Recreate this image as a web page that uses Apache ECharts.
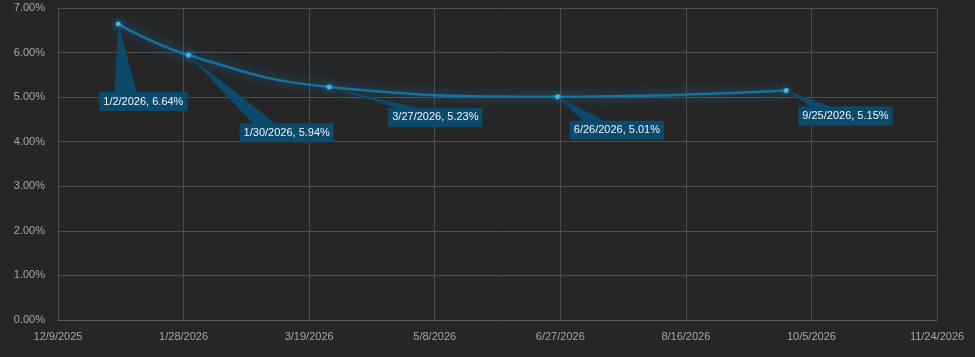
<!DOCTYPE html>
<html>
<head>
<meta charset="utf-8">
<script src="https://cdn.jsdelivr.net/npm/echarts@6/dist/echarts.min.js"></script>
<style>
html,body{margin:0;padding:0;background:#262626;}
#chart{width:975px;height:357px;}
</style>
</head>
<body>
<div id="chart"></div>
<script>
// Data
var dates = ["1/2/2026", "1/30/2026", "3/27/2026", "6/26/2026", "9/25/2026"];
var values = [6.64, 5.94, 5.23, 5.01, 5.15];
var xTickMin = "12/9/2025", xTickMax = "11/24/2026", xTickStepDays = 50;
var yTicks = [0, 1, 2, 3, 4, 5, 6, 7];
// Label box offsets (px) from each point: [left, top]
var labelOffsets = [[-19, 68], [51, 68], [59, 21], [12, 24], [12, 16]];

var EPOCH = Date.UTC(1899, 11, 30);
function toSerial(s) {
  var p = s.split('/');
  return Math.round((Date.UTC(+p[2], +p[0] - 1, +p[1]) - EPOCH) / 86400000);
}
function fromSerial(n) {
  var d = new Date(EPOCH + n * 86400000);
  return (d.getUTCMonth() + 1) + '/' + d.getUTCDate() + '/' + d.getUTCFullYear();
}
var pts = dates.map(function (d, i) { return [toSerial(d), values[i]]; });

var chart = echarts.init(document.getElementById('chart'));
var FONT = '"Liberation Sans", Arial, sans-serif';
var gridColor = '#4d4d4d';
var boxColor = '#0c4a6b';

chart.setOption({
  backgroundColor: '#262626',
  animation: false,
  grid: { left: 58, right: 38, top: 8, bottom: 37 },
  xAxis: {
    type: 'value',
    min: toSerial(xTickMin),
    max: toSerial(xTickMax),
    interval: xTickStepDays,
    axisLine: { show: true, lineStyle: { color: '#595959', width: 1 } },
    axisTick: { show: false },
    splitLine: { show: true, lineStyle: { color: gridColor, width: 1 } },
    axisLabel: {
      color: '#a6a6a6', fontSize: 11, fontFamily: FONT, margin: 11,
      formatter: function (v) { return fromSerial(v); }
    }
  },
  yAxis: {
    type: 'value',
    min: yTicks[0],
    max: yTicks[yTicks.length - 1],
    interval: 1,
    axisLine: { show: false },
    axisTick: { show: false },
    splitLine: { show: true, lineStyle: { color: gridColor, width: 1 } },
    axisLabel: {
      color: '#a6a6a6', fontSize: 11, fontFamily: FONT, margin: 13,
      formatter: function (v) { return v.toFixed(2) + '%'; }
    }
  },
  series: [
    {
      type: 'line',
      data: pts,
      smooth: 0.45,
      symbol: 'circle',
      symbolSize: 5,
      itemStyle: { color: '#45b8f2', borderWidth: 0, shadowBlur: 6, shadowColor: 'rgba(40,170,240,0.9)' },
      lineStyle: { color: '#13729f', width: 2.5, shadowBlur: 12, shadowColor: 'rgba(20,140,210,0.75)' },
      z: 3
    },
    {
      type: 'custom',
      data: pts,
      clip: false,
      z: 4,
      renderItem: function (params, api) {
        var i = params.dataIndex;
        var c = api.coord([api.value(0), api.value(1)]);
        var off = labelOffsets[i];
        var left = c[0] + off[0], top = c[1] + off[1];
        var txt = dates[i] + ', ' + values[i].toFixed(2) + '%';
        return {
          type: 'group',
          children: [
            {
              type: 'polygon',
              shape: { points: [[c[0], c[1]], [left + 15, top + 2], [left + 38, top + 2]] },
              style: { fill: boxColor }
            },
            {
              type: 'text',
              x: left, y: top,
              style: {
                text: txt, fill: '#eef3f6', font: '11px ' + FONT,
                backgroundColor: boxColor, padding: [3, 4, 3, 4],
                lineHeight: 13
              }
            }
          ]
        };
      }
    }
  ]
});
</script>
</body>
</html>
